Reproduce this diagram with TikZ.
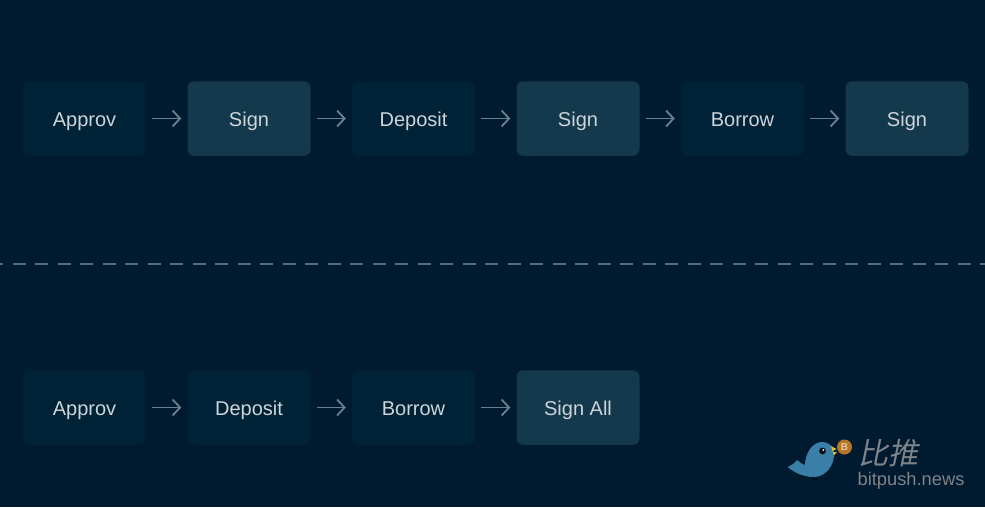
\documentclass[tikz,border=0pt]{standalone}
\usepackage{fontspec}
\setmainfont{Liberation Sans}
\newfontfamily\cjkfont[FakeSlant=0.2]{Noto Sans CJK SC}
\newfontfamily\markfont{Liberation Sans}
\usetikzlibrary{arrows.meta}
\definecolor{bgc}{HTML}{001A30}
\definecolor{darkbox}{HTML}{002236}
\definecolor{lightbox}{HTML}{14384C}
\definecolor{lbl}{HTML}{CDD5DA}
\definecolor{arrowc}{HTML}{6A8290}
\definecolor{dashc}{HTML}{50707F}
\definecolor{birdc}{HTML}{3A7FA8}
\definecolor{wmark}{HTML}{7E8389}
\definecolor{coinc}{HTML}{B8762C}
\definecolor{coint}{HTML}{E8C898}
\definecolor{beakc}{HTML}{D8C030}
\definecolor{darkmark}{HTML}{0A0F18}
\tikzset{
  boxbase/.style={minimum width=123pt,minimum height=74.5pt,rounded corners=6.5pt,inner sep=0pt,text=lbl,font=\fontsize{20}{22}\selectfont,text height=18pt,text depth=3pt},
  darkstep/.style={boxbase,fill=darkbox},
  lightstep/.style={boxbase,fill=lightbox},
  flow/.style={draw=arrowc,line width=1.8pt,-{Straight Barb[length=7.5pt,width=16pt,line width=1.8pt]},shorten >=6pt,shorten <=6pt},
}
\begin{document}
\begin{tikzpicture}[x=1pt,y=-1pt]
\fill[bgc] (0,0) rectangle (985,507);
\useasboundingbox (0,0) rectangle (985,507);
% top row
\node[darkstep]  (a1) at (84.5,118.5)  {Approv};
\node[lightstep] (a2) at (249,118.5)   {Sign};
\node[darkstep]  (a3) at (413.5,118.5) {Deposit};
\node[lightstep] (a4) at (578,118.5)   {Sign};
\node[darkstep]  (a5) at (742.5,118.5) {Borrow};
\node[lightstep] (a6) at (907,118.5)   {Sign};
\foreach \p/\q in {a1/a2,a2/a3,a3/a4,a4/a5,a5/a6} \draw[flow] (\p) -- (\q);
% divider
\coordinate (dl) at (-10,263.5);
\coordinate (dr) at (985,263.5);
\draw[dashc,line width=2pt,dash pattern=on 13pt off 9.5pt] (dl) -- (dr);
% bottom row
\node[darkstep]  (b1) at (84.5,407.5)  {Approv};
\node[darkstep]  (b2) at (249,407.5)   {Deposit};
\node[darkstep]  (b3) at (413.5,407.5) {Borrow};
\node[lightstep] (b4) at (578,407.5)   {Sign All};
\foreach \p/\q in {b1/b2,b2/b3,b3/b4} \draw[flow] (\p) -- (\q);
% watermark
\fill[birdc] (787.5,467) .. controls (792,465) and (795,463) .. (797,460)
  .. controls (799,462) and (802,464) .. (805,465)
  .. controls (805,455) and (811,443) .. (821,442)
  .. controls (828,441.5) and (833,446) .. (834,452)
  .. controls (835,466) and (825,477) .. (814,477)
  .. controls (804,477) and (795,473) .. (787.5,467) -- cycle;
\fill[darkmark] (822.5,451) circle (3.4pt);
\fill[white] (823.4,450) circle (1pt);
\fill[beakc] (831,446) -- (836.5,449) -- (832.5,451) -- cycle;
\fill[beakc] (833,452) -- (837,452) -- (834,455.5) -- cycle;
\fill[coinc] (844.5,447) circle (7.5pt);
\node[inner sep=0pt,text=coint,font=\markfont\bfseries\fontsize{10}{10}\selectfont] (coin) at (844.5,447) {B};
\draw[darkmark,line width=0.8pt] (812,477) -- (818,480.5);
\draw[darkmark,line width=0.8pt] (815,478.5) -- (813,481);
\node[inner sep=0pt,text=wmark,font=\cjkfont\fontsize{30}{31}\selectfont] (wz) at (888,453) {比推};
\node[inner sep=0pt,text=wmark,font=\markfont\fontsize{18.3}{20}\selectfont] (wn) at (911,480.5) {bitpush.news};
\end{tikzpicture}
\end{document}
